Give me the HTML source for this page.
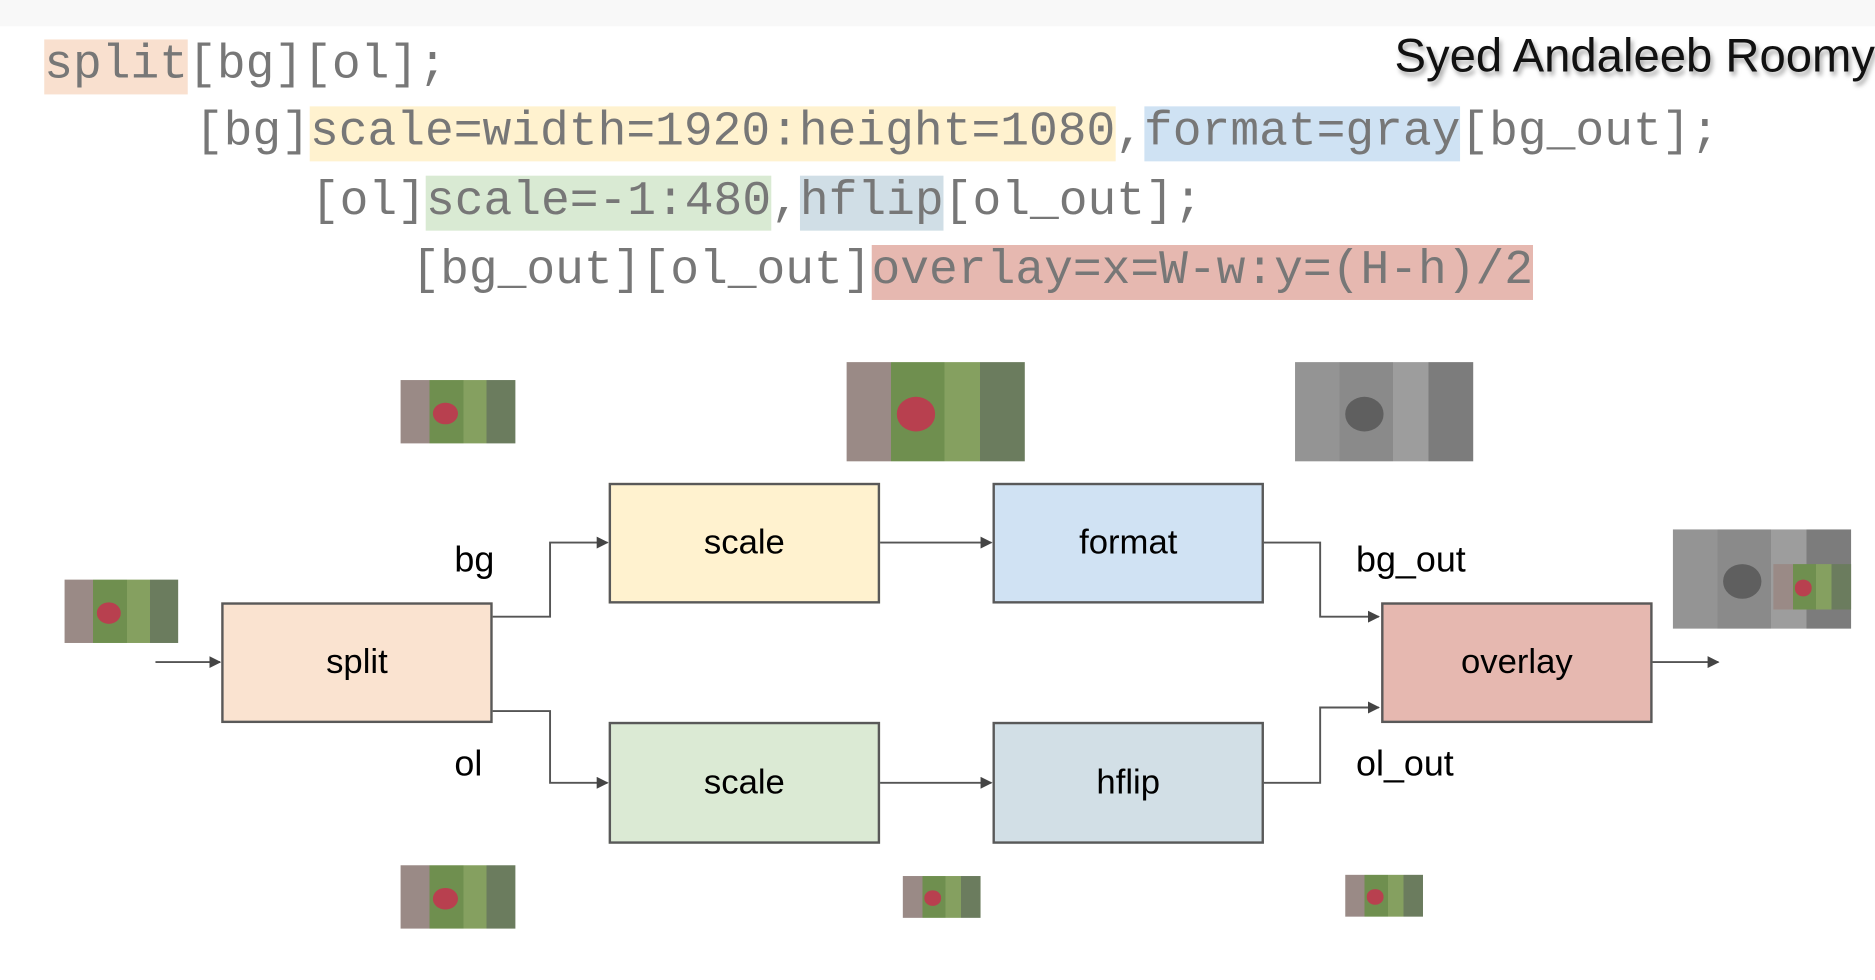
<!DOCTYPE html>
<html><head><meta charset="utf-8"><style>
html,body{margin:0;padding:0;background:#fff;width:1875px;height:980px;overflow:hidden}
#w{position:absolute;left:0;top:0;width:1568px;height:820px;transform:scale(1.19579,1.19512);transform-origin:0 0;background:#fff}
.a{position:absolute}
.code{font-family:"Liberation Mono",monospace;font-size:40.1px;color:#777;white-space:pre;line-height:46px;height:46px}
.code span{display:inline-block}
.box{position:absolute;border:2px solid #595959;box-sizing:border-box;font-family:"Liberation Sans",sans-serif;font-size:29px;color:#000;display:flex;align-items:center;justify-content:center}
.lbl{position:absolute;font-family:"Liberation Sans",sans-serif;font-size:30px;color:#000}
.img{position:absolute;overflow:hidden;background:linear-gradient(90deg,#9a8a86 0 25%,#6f8f4f 25% 55%,#85a060 55% 75%,#6b7c5e 75%)}
.img::after{content:"";position:absolute;left:28%;top:35%;width:22%;height:35%;border-radius:50%;background:#b8404f}
.g{filter:grayscale(1) brightness(1.05)}
</style></head><body><div id="w">
<div class="a" style="left:0;top:0;width:1568px;height:22px;background:#f8f8f8"></div>
<div class="a code" style="left:37px;top:33px"><span style="background:#f9e0cf">split</span>[bg][ol];</div>
<div class="a code" style="left:163px;top:89px">[bg]<span style="background:#fff2cf">scale=width=1920:height=1080</span>,<span style="background:#cfe2f3">format=gray</span>[bg_out];</div>
<div class="a code" style="left:260px;top:147px">[ol]<span style="background:#d9ead3">scale=-1:480</span>,<span style="background:#d0dee6">hflip</span>[ol_out];</div>
<div class="a code" style="left:344px;top:205px">[bg_out][ol_out]<span style="background:#e6b8b0">overlay=x=W-w:y=(H-h)/2</span></div>
<div class="a" style="right:0;top:25px;font-family:'Liberation Sans',sans-serif;font-size:39.5px;color:#111;text-shadow:2px 3px 4px rgba(0,0,0,.35);white-space:nowrap">Syed Andaleeb Roomy</div>

<div class="img" style="left:335px;top:318px;width:96px;height:53px"></div>
<div class="img" style="left:708px;top:303px;width:149px;height:83px"></div>
<div class="img g" style="left:1083px;top:303px;width:149px;height:83px"></div>
<div class="img" style="left:54px;top:485px;width:95px;height:53px"></div>
<div class="img g" style="left:1399px;top:443px;width:149px;height:83px"></div>
<div class="img" style="left:1483px;top:472px;width:65px;height:38px"></div>
<div class="img" style="left:335px;top:724px;width:96px;height:53px"></div>
<div class="img" style="left:755px;top:733px;width:65px;height:35px"></div>
<div class="img" style="left:1125px;top:732px;width:65px;height:35px"></div>

<svg class="a" style="left:0;top:0" width="1568" height="820">
<defs><marker id="ar" markerWidth="10" markerHeight="10" refX="9" refY="5" orient="auto" markerUnits="userSpaceOnUse"><path d="M0,0 L10,5 L0,10 z" fill="#444"/></marker></defs>
<g fill="none" stroke="#555" stroke-width="1.6" marker-end="url(#ar)">
<path d="M130,554 H184"/>
<path d="M411,516 H460 V454 H508"/>
<path d="M411,595 H460 V655 H508"/>
<path d="M735,454 H829"/>
<path d="M735,655 H829"/>
<path d="M1056,454 H1104 V516 H1153"/>
<path d="M1056,655 H1104 V592 H1153"/>
<path d="M1381,554 H1437"/>
</g></svg>

<div class="box" style="left:185px;top:504px;width:227px;height:101px;background:#fae3d0">split</div>
<div class="box" style="left:509px;top:404px;width:227px;height:101px;background:#fff2cf">scale</div>
<div class="box" style="left:830px;top:404px;width:227px;height:101px;background:#d0e2f3">format</div>
<div class="box" style="left:1155px;top:504px;width:227px;height:101px;background:#e6b8b0">overlay</div>
<div class="box" style="left:509px;top:604px;width:227px;height:102px;background:#dbead4">scale</div>
<div class="box" style="left:830px;top:604px;width:227px;height:102px;background:#d2dfe6">hflip</div>

<div class="lbl" style="left:380px;top:452px">bg</div>
<div class="lbl" style="left:380px;top:623px">ol</div>
<div class="lbl" style="left:1134px;top:452px">bg_out</div>
<div class="lbl" style="left:1134px;top:623px">ol_out</div>
</div></body></html>
